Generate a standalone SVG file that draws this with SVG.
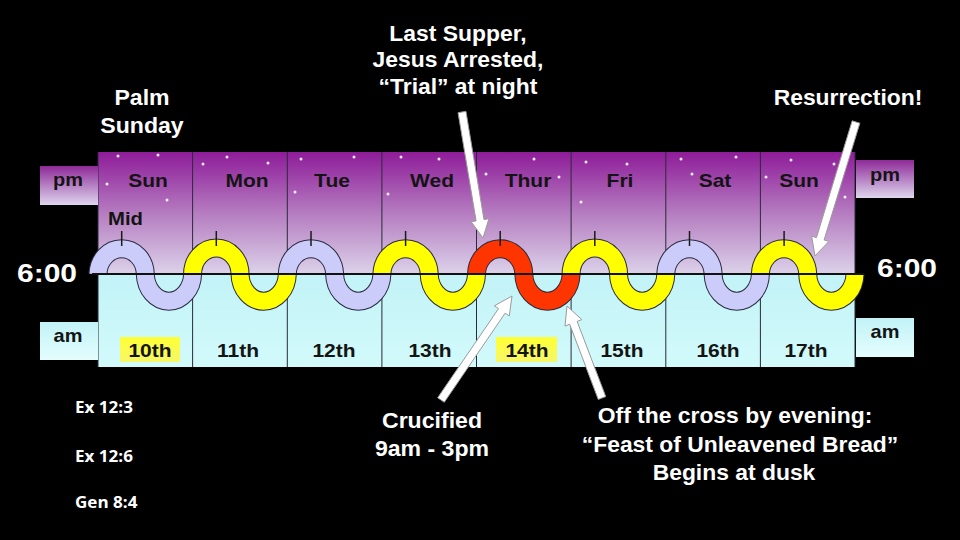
<svg xmlns="http://www.w3.org/2000/svg" width="960" height="540" viewBox="0 0 960 540">
  <defs>
    <linearGradient id="gTop" x1="0" y1="0" x2="0" y2="1">
      <stop offset="0" stop-color="#8e1c99"/>
      <stop offset="0.5" stop-color="#b57cc0"/>
      <stop offset="1" stop-color="#dcd2ea"/>
    </linearGradient>
    <linearGradient id="gBot" x1="0" y1="0" x2="0" y2="1">
      <stop offset="0" stop-color="#c2f3f7"/>
      <stop offset="1" stop-color="#d2fafb"/>
    </linearGradient>
    <linearGradient id="gPm" x1="0" y1="0" x2="0" y2="1">
      <stop offset="0" stop-color="#8e2a98"/>
      <stop offset="1" stop-color="#ded6ee"/>
    </linearGradient>
    <linearGradient id="gAm" x1="0" y1="0" x2="0" y2="1">
      <stop offset="0" stop-color="#c2f3f7"/>
      <stop offset="1" stop-color="#e4fdfd"/>
    </linearGradient>
    <linearGradient id="gHi" x1="0" y1="0" x2="0" y2="1">
      <stop offset="0" stop-color="#ffff33"/>
      <stop offset="1" stop-color="#f6f66a"/>
    </linearGradient>
  </defs>
  <style>
    .day { font-family: "Liberation Sans", Arial, sans-serif; font-weight: bold; font-size: 17.5px; fill: #141414; text-anchor: middle; }
    .mid { font-family: "Liberation Sans", Arial, sans-serif; font-weight: bold; font-size: 17.5px; fill: #141414; }
    .box { font-family: "Liberation Sans", Arial, sans-serif; font-weight: bold; font-size: 19px; fill: #141414; text-anchor: middle; }
    .note { font-family: "Liberation Sans", Arial, sans-serif; font-weight: bold; font-size: 22px; fill: #ffffff; text-anchor: middle; }
    .time { font-family: "Liberation Sans", Arial, sans-serif; font-weight: bold; font-size: 25px; fill: #ffffff; text-anchor: middle; }
    .ref { font-family: "Open Sans", "Liberation Sans", sans-serif; font-weight: bold; font-size: 15.5px; fill: #ffffff; }
    .div { stroke: #2a2a3a; stroke-width: 1; }
    .tick { stroke: #1a1a1a; stroke-width: 1.5; }
    .star { fill: #ffffff; opacity: 0.9; }
    .tube { fill: none; stroke-width: 17; stroke-linecap: butt; }
    .arrow { fill: #ffffff; stroke: #9a9a9a; stroke-width: 1; }
  </style>
  <rect x="0" y="0" width="960" height="540" fill="#000000"/>

  <g id="band">
    <rect x="98" y="152" width="757" height="122" fill="url(#gTop)"/>
    <rect x="98" y="274" width="757" height="93" fill="url(#gBot)"/>
    <g id="stars">
      <circle class="star" cx="118" cy="156" r="1.5"/><circle class="star" cx="158" cy="155" r="1.5"/>
      <circle class="star" cx="107" cy="184" r="1.5"/><circle class="star" cx="167" cy="200" r="1.5"/>
      <circle class="star" cx="203" cy="164" r="1.5"/><circle class="star" cx="227" cy="157" r="1.5"/>
      <circle class="star" cx="268" cy="163" r="1.5"/><circle class="star" cx="295" cy="192" r="1.5"/>
      <circle class="star" cx="301" cy="159" r="1.5"/><circle class="star" cx="354" cy="157" r="1.5"/>
      <circle class="star" cx="401" cy="157" r="1.5"/><circle class="star" cx="439" cy="159" r="1.5"/>
      <circle class="star" cx="388" cy="194" r="1.5"/><circle class="star" cx="486" cy="174" r="1.5"/>
      <circle class="star" cx="534" cy="159" r="1.5"/><circle class="star" cx="559" cy="177" r="1.5"/>
      <circle class="star" cx="586" cy="162" r="1.5"/><circle class="star" cx="627" cy="164" r="1.5"/>
      <circle class="star" cx="581" cy="202" r="1.5"/><circle class="star" cx="681" cy="159" r="1.5"/>
      <circle class="star" cx="736" cy="157" r="1.5"/><circle class="star" cx="692" cy="174" r="1.5"/>
      <circle class="star" cx="791" cy="160" r="1.5"/><circle class="star" cx="766" cy="177" r="1.5"/>
      <circle class="star" cx="834" cy="164" r="1.5"/><circle class="star" cx="845" cy="197" r="1.5"/>
    </g>
    <g id="dividers">
      <line class="div" x1="98" y1="152" x2="98" y2="367"/>
      <line class="div" x1="192.6" y1="152" x2="192.6" y2="367"/>
      <line class="div" x1="287.3" y1="152" x2="287.3" y2="367"/>
      <line class="div" x1="381.9" y1="152" x2="381.9" y2="367"/>
      <line class="div" x1="476.5" y1="152" x2="476.5" y2="367"/>
      <line class="div" x1="571.1" y1="152" x2="571.1" y2="367"/>
      <line class="div" x1="665.8" y1="152" x2="665.8" y2="367"/>
      <line class="div" x1="760.4" y1="152" x2="760.4" y2="367"/>
      <line class="div" x1="855" y1="152" x2="855" y2="367"/>
    </g>
    <rect x="120" y="337" width="60" height="25" fill="url(#gHi)"/>
    <rect x="496" y="337" width="61" height="25" fill="url(#gHi)"/>
  </g>

  <g id="wave">
    <path d="M98,274 A23.66,26 0 0 1 145.3,274 A23.66,28 0 0 0 192.6,274 A23.66,26 0 0 1 240,274 A23.66,28 0 0 0 287.3,274 A23.66,26 0 0 1 334.6,274 A23.66,28 0 0 0 381.9,274 A23.66,26 0 0 1 429.2,274 A23.66,28 0 0 0 476.5,274 A23.66,26 0 0 1 523.8,274 A23.66,28 0 0 0 571.1,274 A23.66,26 0 0 1 618.5,274 A23.66,28 0 0 0 665.8,274 A23.66,26 0 0 1 713.1,274 A23.66,28 0 0 0 760.4,274 A23.66,26 0 0 1 807.7,274 A23.66,28 0 0 0 855,274" fill="none" stroke="#2a2a40" stroke-width="19"/>
    <path class="tube" stroke="#ccccfa" d="M98,274 A23.66,26 0 0 1 145.3,274 A23.66,28 0 0 0 192.6,274"/>
    <path class="tube" stroke="#ffff00" d="M192.6,274 A23.66,26 0 0 1 240,274 A23.66,28 0 0 0 287.3,274"/>
    <path class="tube" stroke="#ccccfa" d="M287.3,274 A23.66,26 0 0 1 334.6,274 A23.66,28 0 0 0 381.9,274"/>
    <path class="tube" stroke="#ffff00" d="M381.9,274 A23.66,26 0 0 1 429.2,274 A23.66,28 0 0 0 476.5,274"/>
    <path class="tube" stroke="#ff3500" d="M476.5,274 A23.66,26 0 0 1 523.8,274 A23.66,28 0 0 0 571.1,274"/>
    <path class="tube" stroke="#ffff00" d="M571.1,274 A23.66,26 0 0 1 618.5,274 A23.66,28 0 0 0 665.8,274"/>
    <path class="tube" stroke="#ccccfa" d="M665.8,274 A23.66,26 0 0 1 713.1,274 A23.66,28 0 0 0 760.4,274"/>
    <path class="tube" stroke="#ffff00" d="M760.4,274 A23.66,26 0 0 1 807.7,274 A23.66,28 0 0 0 855,274"/>
    <line x1="92" y1="274" x2="864" y2="274" stroke="#111111" stroke-width="2"/>
    <line class="tick" x1="121.7" y1="231" x2="121.7" y2="246"/>
    <line class="tick" x1="216.3" y1="231" x2="216.3" y2="246"/>
    <line class="tick" x1="311" y1="231" x2="311" y2="246"/>
    <line class="tick" x1="405.6" y1="231" x2="405.6" y2="246"/>
    <line class="tick" x1="500.2" y1="231" x2="500.2" y2="246"/>
    <line class="tick" x1="594.8" y1="231" x2="594.8" y2="246"/>
    <line class="tick" x1="689.5" y1="231" x2="689.5" y2="246"/>
    <line class="tick" x1="784.1" y1="231" x2="784.1" y2="246"/>
  </g>

  <g id="day-labels">
    <text class="day" transform="translate(148,187) scale(1.2,1)">Sun</text>
    <text class="day" transform="translate(247,187) scale(1.2,1)">Mon</text>
    <text class="day" transform="translate(332,187) scale(1.2,1)">Tue</text>
    <text class="day" transform="translate(432,187) scale(1.2,1)">Wed</text>
    <text class="day" transform="translate(528,187) scale(1.2,1)">Thur</text>
    <text class="day" transform="translate(620,187) scale(1.2,1)">Fri</text>
    <text class="day" transform="translate(715,187) scale(1.2,1)">Sat</text>
    <text class="day" transform="translate(799,187) scale(1.2,1)">Sun</text>
    <text class="mid" transform="translate(108,225) scale(1.16,1)">Mid</text>
  </g>
  <g id="date-labels">
    <text class="day" transform="translate(150,357) scale(1.2,1)">10th</text>
    <text class="day" transform="translate(238,357) scale(1.2,1)">11th</text>
    <text class="day" transform="translate(334,357) scale(1.2,1)">12th</text>
    <text class="day" transform="translate(430,357) scale(1.2,1)">13th</text>
    <text class="day" transform="translate(527,357) scale(1.2,1)">14th</text>
    <text class="day" transform="translate(622,357) scale(1.2,1)">15th</text>
    <text class="day" transform="translate(718,357) scale(1.2,1)">16th</text>
    <text class="day" transform="translate(806,357) scale(1.2,1)">17th</text>
  </g>

  <g id="pm-left"><rect x="40" y="166" width="58" height="39" fill="url(#gPm)"/><text class="box" transform="translate(68,186) scale(1.05,1)">pm</text></g>
  <g id="am-left"><rect x="40" y="322" width="58" height="38" fill="url(#gAm)"/><text class="box" transform="translate(68,342) scale(1.05,1)">am</text></g>
  <g id="pm-right"><rect x="856" y="160" width="58" height="38" fill="url(#gPm)"/><text class="box" transform="translate(885,181) scale(1.05,1)">pm</text></g>
  <g id="am-right"><rect x="856" y="318" width="58" height="39" fill="url(#gAm)"/><text class="box" transform="translate(885,338) scale(1.05,1)">am</text></g>

  <g id="time-left"><text class="time" transform="translate(47,282) scale(1.2,1)">6:00</text></g>
  <g id="time-right"><text class="time" transform="translate(907,277) scale(1.2,1)">6:00</text></g>

  <g id="palm-sunday">
    <text class="note" transform="translate(142,105) scale(1.05,1)">Palm</text>
    <text class="note" transform="translate(142,133) scale(1.05,1)">Sunday</text>
  </g>
  <g id="last-supper">
    <text class="note" transform="translate(458,40.5) scale(1.04,1)">Last Supper,</text>
    <text class="note" transform="translate(458,67) scale(1.04,1)">Jesus Arrested,</text>
    <text class="note" transform="translate(458,94) scale(1.04,1)">“Trial” at night</text>
  </g>
  <g id="resurrection"><text class="note" transform="translate(848,105) scale(1.04,1)">Resurrection!</text></g>
  <g id="crucified">
    <text class="note" transform="translate(432,428) scale(1.05,1)">Crucified</text>
    <text class="note" transform="translate(432,456) scale(1.05,1)">9am - 3pm</text>
  </g>
  <g id="off-cross">
    <text class="note" transform="translate(735,423) scale(1.04,1)">Off the cross by evening:</text>
    <text class="note" transform="translate(740,452) scale(1.04,1)">“Feast of Unleavened Bread”</text>
    <text class="note" transform="translate(734,480) scale(1.04,1)">Begins at dusk</text>
  </g>
  <g id="references">
    <text class="ref" transform="translate(75,413) scale(1.1,1)">Ex 12:3</text>
    <text class="ref" transform="translate(75,462) scale(1.1,1)">Ex 12:6</text>
    <text class="ref" transform="translate(75,508) scale(1.1,1)">Gen 8:4</text>
  </g>

  <g id="connectors">
    <polygon class="arrow" points="458.05,112.66 476.09,220.90 471.16,221.72 483,238 488.92,218.76 483.99,219.58 465.95,111.34"/>
    <polygon class="arrow" points="852.17,120.83 816.44,237.61 811.66,236.15 815,256 828.88,241.41 824.10,239.95 859.83,123.17"/>
    <polygon class="arrow" points="444.30,402.26 505.15,313.13 509.28,315.95 512,296 494.42,305.79 498.55,308.61 437.70,397.74"/>
    <polygon class="arrow" points="605.74,396.58 577.14,321.41 581.82,319.63 567,306 564.99,326.03 569.66,324.25 598.26,399.42"/>
  </g>
</svg>
